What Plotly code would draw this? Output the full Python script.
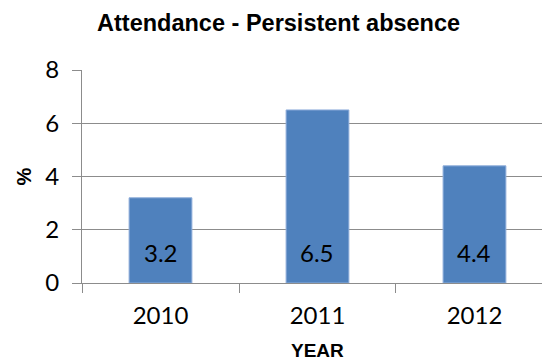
import plotly.graph_objects as go

# Persistent absence rate by school year
years = ["2010", "2011", "2012"]
absence_pct = [3.2, 6.5, 4.4]
y_ticks = [0, 2, 4, 6, 8]

BAR_BLUE = "#4F81BD"
GRID_GREY = "#8C8C8C"
TICK_FONT = dict(family="Lato, Calibri, sans-serif", size=24, color="#000000")

fig = go.Figure()

fig.add_trace(go.Bar(
    x=years,
    y=absence_pct,
    marker=dict(color=BAR_BLUE, line=dict(color="#8FAEDB", width=1)),
    hoverinfo="skip",
))

# value labels sit just inside the base of each bar (x given as category index)
for i, val in enumerate(absence_pct):
    fig.add_annotation(
        x=i, y=0, text=f"{val}", showarrow=False,
        xanchor="center", yanchor="bottom", yshift=14,
        font=TICK_FONT,
    )

# axis caption centred under the full category span
fig.add_annotation(
    xref="paper", yref="paper", x=0.512, y=-0.318,
    text="<b>YEAR</b>", showarrow=False,
    xanchor="center", yanchor="middle",
    font=dict(family="Liberation Sans, Arial, sans-serif", size=19, color="#000000"),
)

fig.update_layout(
    width=542, height=361,
    margin=dict(l=82, r=0, t=70, b=78),
    paper_bgcolor="white", plot_bgcolor="white",
    bargap=0.6,
    showlegend=False,
    title=dict(
        text="<b>Attendance - Persistent absence</b>",
        x=0.514, xanchor="center", xref="container",
        y=0.936, yanchor="middle", yref="container",
        font=dict(family="Liberation Sans, Arial, sans-serif", size=23.5, color="#000000"),
    ),
)

fig.update_xaxes(
    type="category",
    range=[-0.5, 2.43],
    showgrid=False,
    showline=True, linecolor=GRID_GREY, linewidth=1,
    ticks="outside", tickson="boundaries", ticklen=9, tickcolor=GRID_GREY, tickwidth=1,
    tickfont=TICK_FONT,
    ticklabelstandoff=11,
)

fig.update_yaxes(
    range=[0, 8],
    tickvals=y_ticks,
    showgrid=True, gridcolor=GRID_GREY, gridwidth=1,
    zeroline=False,
    showline=True, linecolor=GRID_GREY, linewidth=1,
    ticks="outside", ticklen=9, tickcolor=GRID_GREY, tickwidth=1,
    tickfont=TICK_FONT,
    ticklabelstandoff=8,
    title=dict(
        text="<b>%</b>", standoff=8,
        font=dict(family="Liberation Sans, Arial, sans-serif", size=20, color="#000000"),
    ),
)

fig.write_html("out.html")
